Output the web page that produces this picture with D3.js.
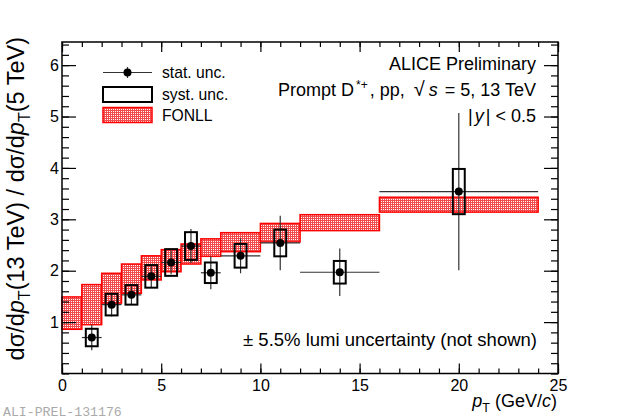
<!DOCTYPE html>
<html>
<head>
<meta charset="utf-8">
<script src="https://cdn.jsdelivr.net/npm/d3@7"></script>
<style>
  body { margin: 0; background: #fff; }
</style>
</head>
<body>
<div id="chart"></div>
<script>
  // FONLL prediction bands (pT bin edges, lower and upper edge of the ratio)
  const binEdges = [0, 1, 2, 3, 4, 5, 6, 7, 8, 10, 12, 16, 24];
  const fonllLow = [0.86, 0.95, 1.37, 1.56, 1.82, 1.98, 2.13, 2.28, 2.37, 2.56, 2.78, 3.14];
  const fonllHigh = [1.49, 1.73, 1.95, 2.13, 2.29, 2.41, 2.52, 2.62, 2.74, 2.92, 3.09, 3.43];

  // Measured ratio 13 TeV / 5 TeV
  const ptCenter = [1.5, 2.5, 3.5, 4.5, 5.5, 6.5, 7.5, 9, 11, 14, 20];
  const ptHalfWidth = [0.5, 0.5, 0.5, 0.5, 0.5, 0.5, 0.5, 1, 1, 2, 4];
  const ratio = [0.70, 1.34, 1.53, 1.89, 2.16, 2.48, 1.96, 2.29, 2.54, 1.97, 3.54];
  const statErr = [0.25, 0.23, 0.20, 0.22, 0.23, 0.33, 0.32, 0.34, 0.53, 0.46, 1.53];
  const systErr = [0.17, 0.21, 0.19, 0.22, 0.26, 0.27, 0.20, 0.23, 0.26, 0.22, 0.44];

  const xTicks = [0, 5, 10, 15, 20, 25];
  const yTicks = [1, 2, 3, 4, 5, 6];

  const width = 620, height = 420;
  const margin = { top: 42, right: 62, bottom: 46.5, left: 62 };
  const boxHalf = 0.3; // syst box half width in GeV/c
  const sans = "'Liberation Sans', Arial, sans-serif";

  const svg = d3.select("#chart").append("svg")
    .attr("width", width)
    .attr("height", height)
    .style("font-family", sans);

  const x = d3.scaleLinear().domain([0, 25]).range([margin.left, width - margin.right]);
  const y = d3.scaleLinear().domain([0, 6.45]).range([height - margin.bottom, margin.top]);

  // dotted red fill like the ROOT hatch style
  const defs = svg.append("defs");
  const pat = defs.append("pattern")
    .attr("id", "fonll")
    .attr("width", 2).attr("height", 2)
    .attr("patternUnits", "userSpaceOnUse");
  pat.append("rect").attr("width", 2).attr("height", 2).attr("fill", "#f24a4a");
  pat.append("rect").attr("x", 1).attr("y", 1).attr("width", 1).attr("height", 1).attr("fill", "#fff");

  // FONLL bands
  const bands = fonllLow.map((lo, i) => ({ x0: binEdges[i], x1: binEdges[i + 1], lo: lo, hi: fonllHigh[i] }));
  svg.append("g").selectAll("rect")
    .data(bands)
    .enter().append("rect")
    .attr("x", d => x(d.x0))
    .attr("y", d => y(d.hi))
    .attr("width", d => x(d.x1) - x(d.x0))
    .attr("height", d => y(d.lo) - y(d.hi))
    .attr("fill", "url(#fonll)")
    .attr("stroke", "#ff0000")
    .attr("stroke-width", 1.5);

  // data points
  const pts = ptCenter.map((c, i) => ({ c: c, hw: ptHalfWidth[i], v: ratio[i], st: statErr[i], sy: systErr[i] }));
  const g = svg.append("g");

  g.selectAll(".hbar").data(pts).enter().append("line")
    .attr("x1", d => x(d.c - d.hw)).attr("x2", d => x(d.c + d.hw))
    .attr("y1", d => y(d.v)).attr("y2", d => y(d.v))
    .attr("stroke", "#333").attr("stroke-width", 1.2);

  g.selectAll(".vbar").data(pts).enter().append("line")
    .attr("x1", d => x(d.c)).attr("x2", d => x(d.c))
    .attr("y1", d => y(d.v - d.st)).attr("y2", d => y(d.v + d.st))
    .attr("stroke", "#333").attr("stroke-width", 1.2);

  g.selectAll(".syst").data(pts).enter().append("rect")
    .attr("x", d => x(d.c - boxHalf))
    .attr("y", d => y(d.v + d.sy))
    .attr("width", d => x(d.c + boxHalf) - x(d.c - boxHalf))
    .attr("height", d => y(d.v - d.sy) - y(d.v + d.sy))
    .attr("fill", "none").attr("stroke", "#000").attr("stroke-width", 2);

  g.selectAll("circle").data(pts).enter().append("circle")
    .attr("cx", d => x(d.c)).attr("cy", d => y(d.v))
    .attr("r", 4).attr("fill", "#000");

  // axes: major + minor ticks, mirrored on top and right
  const xB = height - margin.bottom, yL = margin.left;
  const xMinor = d3.range(0, 26, 1);
  const yMinor = d3.range(0, 6.41, 0.2);

  svg.append("g").attr("transform", `translate(0,${xB})`)
    .call(d3.axisBottom(x).tickValues(xMinor).tickSize(-5).tickFormat(""));
  svg.append("g").attr("transform", `translate(0,${xB})`)
    .call(d3.axisBottom(x).tickValues(xTicks).tickSize(-10).tickPadding(6).tickFormat(d3.format("d")));
  svg.append("g").attr("transform", `translate(0,${margin.top})`)
    .call(d3.axisTop(x).tickValues(xMinor).tickSize(-5).tickFormat(""));
  svg.append("g").attr("transform", `translate(0,${margin.top})`)
    .call(d3.axisTop(x).tickValues(xTicks).tickSize(-10).tickFormat(""));

  svg.append("g").attr("transform", `translate(${yL},0)`)
    .call(d3.axisLeft(y).tickValues(yMinor).tickSize(-7).tickFormat(""));
  svg.append("g").attr("transform", `translate(${yL},0)`)
    .call(d3.axisLeft(y).tickValues(yTicks).tickSize(-14).tickPadding(3).tickFormat(d3.format("d")));
  svg.append("g").attr("transform", `translate(${width - margin.right},0)`)
    .call(d3.axisRight(y).tickValues(yMinor).tickSize(-7).tickFormat(""));
  svg.append("g").attr("transform", `translate(${width - margin.right},0)`)
    .call(d3.axisRight(y).tickValues(yTicks).tickSize(-14).tickFormat(""));

  svg.selectAll(".domain").remove();
  svg.selectAll(".tick line").attr("stroke", "#000").attr("stroke-width", 1.2);
  svg.selectAll(".tick text")
    .attr("font-size", "16px")
    .attr("font-family", sans)
    .attr("fill", "#000");

  // frame
  svg.append("rect")
    .attr("x", margin.left).attr("y", margin.top)
    .attr("width", width - margin.left - margin.right)
    .attr("height", height - margin.top - margin.bottom)
    .attr("fill", "none").attr("stroke", "#000").attr("stroke-width", 1.5);

  // legend
  const leg = svg.append("g");
  leg.append("line").attr("x1", 103).attr("x2", 152).attr("y1", 72.5).attr("y2", 72.5)
    .attr("stroke", "#333").attr("stroke-width", 1.2);
  leg.append("line").attr("x1", 127.5).attr("x2", 127.5).attr("y1", 67).attr("y2", 78)
    .attr("stroke", "#333").attr("stroke-width", 1.2);
  leg.append("circle").attr("cx", 127.5).attr("cy", 72.5).attr("r", 4).attr("fill", "#000");
  leg.append("rect").attr("x", 103).attr("y", 87).attr("width", 49).attr("height", 15)
    .attr("fill", "none").attr("stroke", "#000").attr("stroke-width", 2);
  leg.append("rect").attr("x", 103).attr("y", 107.5).attr("width", 49).attr("height", 15)
    .attr("fill", "url(#fonll)").attr("stroke", "#ff0000").attr("stroke-width", 1.5);
  [["stat. unc.", 78], ["syst. unc.", 99.5], ["FONLL", 120.5]].forEach(([t, yy]) => {
    leg.append("text").attr("x", 162).attr("y", yy).attr("font-size", "15.7px").text(t);
  });

  // header text
  const info = svg.append("g").attr("font-size", "18px").attr("text-anchor", "end");
  info.append("text").attr("x", 536).attr("y", 69.5).text("ALICE Preliminary");
  const l2 = info.append("text").attr("x", 536).attr("y", 95.5);
  l2.append("tspan").text("Prompt D");
  l2.append("tspan").attr("dx", 2).attr("dy", -7).attr("font-size", "12px").text("*+");
  l2.append("tspan").attr("dx", 2).attr("dy", 7).text(", pp, ");
  l2.append("tspan").attr("dx", 4).attr("font-size", "20px").text("√");
  l2.append("tspan").attr("dx", 4).attr("font-style", "italic").text("s");
  l2.append("tspan").attr("dx", 2).text(" = 5, 13 TeV");
  const l3 = info.append("text").attr("x", 536).attr("y", 121.5);
  l3.append("tspan").text("|");
  l3.append("tspan").attr("dx", 2).attr("font-style", "italic").text("y");
  l3.append("tspan").attr("dx", 2).text("| < 0.5");

  svg.append("text")
    .attr("x", 537).attr("y", 345.5)
    .attr("text-anchor", "end").attr("font-size", "18.5px")
    .text("± 5.5% lumi uncertainty (not shown)");

  // axis titles
  const xt = svg.append("text").attr("x", 557).attr("y", 406.5)
    .attr("text-anchor", "end").attr("font-size", "18px");
  xt.append("tspan").attr("font-style", "italic").text("p");
  xt.append("tspan").attr("dy", 5).attr("font-size", "12.5px").text("T");
  xt.append("tspan").attr("dy", -5).text(" (GeV/");
  xt.append("tspan").attr("font-style", "italic").text("c");
  xt.append("tspan").text(")");

  const yt = svg.append("text")
    .attr("transform", "translate(24,37) rotate(-90)")
    .attr("text-anchor", "end").attr("font-size", "23.5px");
  ["13 TeV", "5 TeV"].forEach((e, i) => {
    yt.append("tspan").text((i ? " / " : "") + "dσ/d");
    yt.append("tspan").attr("font-style", "italic").text("p");
    yt.append("tspan").attr("dy", 6).attr("font-size", "16px").text("T");
    yt.append("tspan").attr("dy", -6).text("(" + e + ")");
  });

  // preliminary tag
  svg.append("text")
    .attr("x", 3).attr("y", 416)
    .style("font-family", "'Liberation Mono', 'Courier New', monospace")
    .attr("font-size", "13.2px").attr("fill", "#aaa")
    .text("ALI-PREL-131176");
</script>
</body>
</html>
